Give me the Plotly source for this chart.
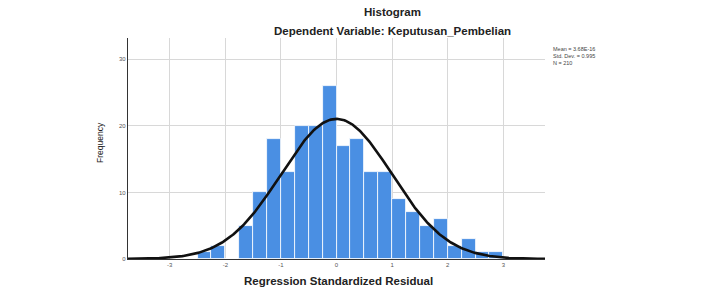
import numpy as np
import plotly.graph_objects as go

# Histogram bins (left edges) and frequencies
bin_left = [-2.5, -2.25, -2.0, -1.75, -1.5, -1.25, -1.0, -0.75, -0.5, -0.25,
            0.0, 0.25, 0.5, 0.75, 1.0, 1.25, 1.5, 1.75, 2.0, 2.25, 2.5, 2.75]
freq = [1, 2, 0, 5, 10, 18, 13, 20, 20, 26,
        17, 18, 13, 13, 9, 7, 5, 6, 2, 3, 1, 1]
bin_width = 0.25

mean_val = 3.68e-16
sd_val = 0.995
n_val = 210

x_ticks = [-3, -2, -1, 0, 1, 2, 3]
y_ticks = [0, 10, 20, 30]

centers = [b + bin_width / 2 for b in bin_left]

xs = np.linspace(-3.75, 3.75, 400)
ys = n_val * bin_width / (sd_val * np.sqrt(2 * np.pi)) * np.exp(-0.5 * ((xs - mean_val) / sd_val) ** 2)

PL, PR, PT, PB = 128, 545, 38, 259  # plot area in page pixels
W, H = 721, 289

fig = go.Figure()
fig.add_trace(go.Bar(x=centers, y=freq, width=bin_width,
                     marker=dict(color="#4a8fe3", line=dict(color="white", width=0.8)),
                     showlegend=False, hoverinfo="skip"))
fig.add_trace(go.Scatter(x=xs, y=ys, mode="lines",
                         line=dict(color="#111111", width=2.6), showlegend=False))

fig.update_layout(
    width=W, height=H,
    margin=dict(l=PL, r=W - PR, t=PT, b=H - PB),
    paper_bgcolor="white", plot_bgcolor="white",
    bargap=0,
    font=dict(family="Liberation Sans, Arial", color="#333333"),
)

texts = [
    ("<b>Histogram</b>", 392, 12, 11.5, "#222222", "center", 0),
    ("<b>Dependent Variable: Keputusan_Pembelian</b>", 392, 31, 11.5, "#222222", "center", 0),
    ("<b>Regression Standardized Residual</b>", 338, 281, 11.5, "#222222", "center", 0),
    ("Frequency", 100, 143, 8.5, "#222222", "center", -90),
    (f"Mean = 3.68E-16<br>Std. Dev. = {sd_val}<br>N = {n_val}", 551, 56, 5.5, "#444444", "left", 0),
]
for t, px, py, sz, col, xa, ang in texts:
    fig.add_annotation(text=t, xref="paper", yref="paper",
                       x=(px - PL) / (PR - PL), y=(PB - py) / (PB - PT),
                       xanchor=xa, yanchor="middle", showarrow=False, align="left",
                       textangle=ang, font=dict(size=sz, color=col))

fig.update_xaxes(range=[-3.75, 3.75], tickvals=x_ticks, ticktext=[str(t) for t in x_ticks],
                 showgrid=True, gridcolor="#d8d8d8", gridwidth=1,
                 showline=True, linecolor="#333333", linewidth=1.2,
                 ticks="", tickfont=dict(size=6, color="#555555"), zeroline=False)
fig.update_yaxes(range=[0, 33.2], tickvals=y_ticks, ticktext=[str(t) for t in y_ticks],
                 showgrid=True, gridcolor="#d8d8d8", gridwidth=1,
                 showline=True, linecolor="#333333", linewidth=1.2,
                 ticks="", tickfont=dict(size=6, color="#555555"), zeroline=False)

fig.write_html("out.html", config={"displayModeBar": False},
               post_script="document.body.style.margin='0';document.body.style.overflow='hidden';")
